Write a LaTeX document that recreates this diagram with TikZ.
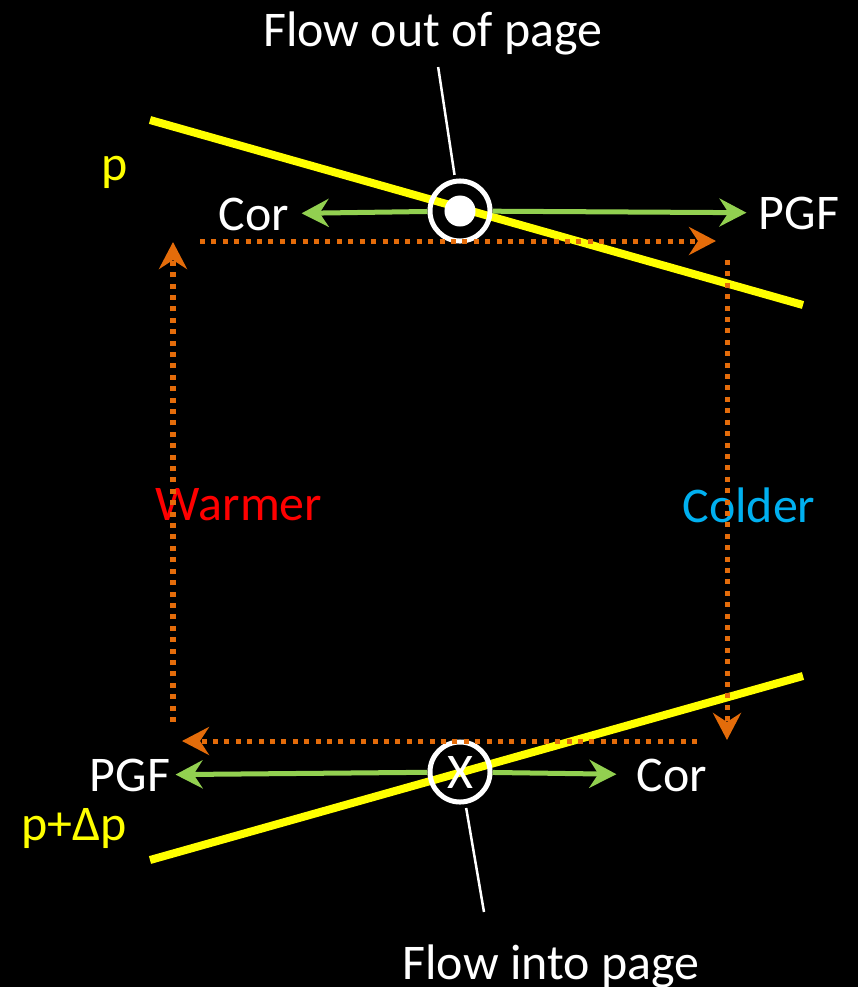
\documentclass[tikz,border=0pt]{standalone}
\usepackage{fontspec}
\setmainfont{Carlito}
\usepackage{tikz}
\usepackage{xcolor}
\usetikzlibrary{arrows.meta}
\definecolor{isoYellow}{RGB}{255,255,0}
\definecolor{forceGreen}{RGB}{146,208,80}
\definecolor{loopOrange}{RGB}{228,108,10}
\definecolor{warmRed}{RGB}{255,0,0}
\definecolor{coldBlue}{RGB}{0,176,240}
\tikzstyle{txt} = [text=white, font=\fontsize{14.2}{17}\selectfont]
\tikzstyle{flowNode} = [circle, draw=white, line width=0.05cm, minimum size=0.6cm, inner sep=0pt, txt]
\tikzstyle{isobar} = [isoYellow, line width=0.08cm]
\tikzstyle{force} = [forceGreen, line width=0.05cm, -{Stealth[length=0.27cm,width=0.28cm,inset=0.09cm]}]
\tikzstyle{circulation} = [loopOrange, line width=0.05cm, dash pattern=on 0.05cm off 0.064cm, -{Stealth[length=0.27cm,width=0.28cm,inset=0.09cm]}]
\tikzstyle{pointer} = [white, line width=0.025cm]

\begin{document}
\begin{tikzpicture}[x=0.01cm, y=-0.01cm]
            \fill[black] (0,0) rectangle (858,987);
            \useasboundingbox (0,0) rectangle (858,987);
            % isobars p and p+dp
            \draw[isobar] (150,120) -- (803,305);
            \draw[isobar] (150,860) -- (803,676);
            % flow out of / into the page
            \node (out) at (460,211) [flowNode] {};
            \node (dot) at (out) [circle, fill=white, minimum size=0.31cm, inner sep=0pt] {};
            \node (into) at (460,772) [flowNode] {X};
            \node (outlbl) at (433,33) [txt] {Flow out of page};
            \node (intolbl) at (551,966) [txt] {Flow into page};
            \node (p1) at (115,172) [txt, text=isoYellow] {p};
            \node (p2) at (74,828) [txt, text=isoYellow] {p+Δp};
            \node (cor1) at (254,214) [txt] {Cor};
            \node (pgf1) at (799,213) [txt] {PGF};
            \node (pgf2) at (130,775) [txt] {PGF};
            \node (cor2) at (672,775) [txt] {Cor};
            \node (warm) at (239,505) [txt, text=warmRed] {Warmer};
            \node (cold) at (749,505) [txt, text=coldBlue] {Colder};
            % forces
            \draw[force] (out) -- (cor1);
            \draw[force] (out) -- (pgf1);
            \draw[force, shorten >=-0.07cm] (into) -- (pgf2);
            \draw[force, shorten >=0.08cm] (into) -- (cor2);
            % circulation
            \coordinate (nw) at (173,241);
            \coordinate (ne) at (727,241);
            \coordinate (se) at (727,741);
            \coordinate (sw) at (173,741);
            \draw[circulation, shorten <=0.27cm, shorten >=0.11cm] (nw) -- (ne);
            \draw[circulation, shorten <=0.19cm, shorten >=0.01cm] (ne) -- (se);
            \draw[circulation, shorten <=0.30cm, shorten >=0.09cm] (se) -- (sw);
            \draw[circulation, shorten <=0.19cm, shorten >=0.01cm] (sw) -- (nw);
            % pointers to the labels
            \coordinate (intotip) at (484,912);
            \draw[pointer, shorten >=0.04cm] (outlbl) -- (out);
            \draw[pointer, shorten <=0.04cm] (into) -- (intotip);
        \end{tikzpicture}
\end{document}
